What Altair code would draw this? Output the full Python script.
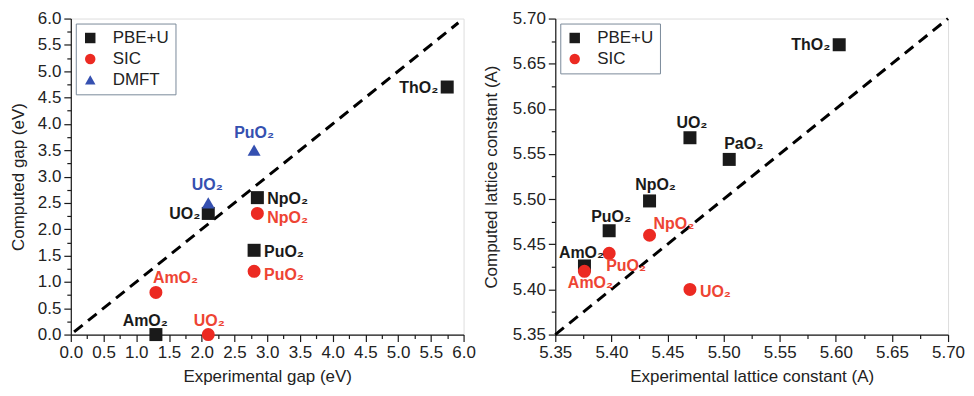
import altair as alt
import pandas as pd

# ---------------- data: band gaps ----------------
gap_pbe_names = ["ThO₂", "NpO₂", "UO₂", "PuO₂", "AmO₂"]
gap_pbe_exp = [5.75, 2.85, 2.1, 2.8, 1.3]
gap_pbe_calc = [4.7, 2.6, 2.3, 1.6, 0.0]

gap_sic_names = ["AmO₂", "UO₂", "NpO₂", "PuO₂"]
gap_sic_exp = [1.3, 2.1, 2.85, 2.8]
gap_sic_calc = [0.8, 0.0, 2.3, 1.2]

gap_dmft_names = ["UO₂", "PuO₂"]
gap_dmft_exp = [2.1, 2.8]
gap_dmft_calc = [2.5, 3.5]

# ---------------- data: lattice constants ----------------
lat_pbe_names = ["ThO₂", "UO₂", "PaO₂", "NpO₂", "PuO₂", "AmO₂"]
lat_pbe_exp = [5.603, 5.470, 5.505, 5.434, 5.398, 5.376]
lat_pbe_calc = [5.671, 5.568, 5.544, 5.498, 5.465, 5.426]

lat_sic_names = ["NpO₂", "PuO₂", "AmO₂", "UO₂"]
lat_sic_exp = [5.434, 5.398, 5.376, 5.470]
lat_sic_calc = [5.460, 5.440, 5.420, 5.400]

gap_ticks = [0.0, 0.5, 1.0, 1.5, 2.0, 2.5, 3.0, 3.5, 4.0, 4.5, 5.0, 5.5, 6.0]
lat_ticks = [5.35, 5.40, 5.45, 5.50, 5.55, 5.60, 5.65, 5.70]

methods = ["PBE+U", "SIC", "DMFT"]

# ---------------- styles ----------------
FONT = "Liberation Sans"
INK = "#1a1a1a"
RED = "#ec2a22"
RED_TXT = "#ee4433"
BLUE = "#3550b0"
method_colors = [INK, RED, BLUE]
method_shapes = ["square", "circle", "triangle-up"]
label_colors = {"PBE+U": INK, "SIC": RED_TXT, "DMFT": BLUE}

# label placement: (align, dx, dy)
gap_place = {
    "PBE+U|ThO₂": ("right", -9, 1),
    "PBE+U|NpO₂": ("left", 10, 1),
    "PBE+U|UO₂": ("right", -8, 1),
    "PBE+U|PuO₂": ("left", 10, 2),
    "PBE+U|AmO₂": ("right", 12, -14),
    "SIC|AmO₂": ("left", -3, -14),
    "SIC|UO₂": ("center", 1, -14),
    "SIC|NpO₂": ("left", 10, 5),
    "SIC|PuO₂": ("left", 10, 4),
    "DMFT|UO₂": ("center", -1, -18),
    "DMFT|PuO₂": ("center", 0, -17),
}
lat_place = {
    "PBE+U|ThO₂": ("right", -9, 0),
    "PBE+U|UO₂": ("center", 2, -15),
    "PBE+U|PaO₂": ("left", -5, -15),
    "PBE+U|NpO₂": ("center", 6, -16),
    "PBE+U|PuO₂": ("center", 2, -14),
    "PBE+U|AmO₂": ("center", -3, -13),
    "SIC|NpO₂": ("left", 4, -11),
    "SIC|PuO₂": ("left", -3, 13),
    "SIC|AmO₂": ("center", 6, 12),
    "SIC|UO₂": ("left", 10, 3),
}


def frame(groups):
    rows = []
    for method, names, xs, ys in groups:
        for n, x, y in zip(names, xs, ys):
            rows.append({"method": method, "name": n, "exp": x, "calc": y,
                         "id": method + "|" + n})
    return pd.DataFrame(rows)


gap_df = frame([("PBE+U", gap_pbe_names, gap_pbe_exp, gap_pbe_calc),
                ("SIC", gap_sic_names, gap_sic_exp, gap_sic_calc),
                ("DMFT", gap_dmft_names, gap_dmft_exp, gap_dmft_calc)])
lat_df = frame([("PBE+U", lat_pbe_names, lat_pbe_exp, lat_pbe_calc),
                ("SIC", lat_sic_names, lat_sic_exp, lat_sic_calc)])


def major_axis(title, ticks, fmt, orient, title_pad):
    return alt.Axis(
        title=title, values=ticks, grid=False, format=fmt, orient=orient,
        labelOverlap=False, labelFlush=False, tickSize=7,
        tickColor=INK, domainColor=INK, tickWidth=1.2, domainWidth=1.2,
        labelFont=FONT, labelFontSize=17, labelColor="#222", labelPadding=3,
        titleFont=FONT, titleFontSize=17, titleFontWeight="normal",
        titleColor="#222", titlePadding=title_pad,
    )


def minor_axis(ticks, orient):
    vals = []
    for a, b in zip(ticks[:-1], ticks[1:]):
        vals.append((a + b) / 2)
    return alt.Axis(title=None, values=vals, grid=False, labels=False,
                    domain=False, tickSize=4, tickColor=INK, tickWidth=1.2,
                    orient=orient)


def panel(df, dom, ticks, fmt, xtitle, ytitle, meths, place, line_pts, w, h,
          ytp):
    xs = alt.Scale(domain=dom, nice=False, zero=False)
    ys = alt.Scale(domain=dom, nice=False, zero=False)
    xax = major_axis(xtitle, ticks, fmt, "bottom", 8)
    yax = major_axis(ytitle, ticks, fmt, "left", ytp)

    # minor ticks layer (invisible mark carrying the minor-tick axes)
    minor = alt.Chart(pd.DataFrame({"exp": [dom[0]], "calc": [dom[0]]})).mark_point(
        opacity=0).encode(
        x=alt.X("exp:Q", scale=xs, axis=minor_axis(ticks, "bottom")),
        y=alt.Y("calc:Q", scale=ys, axis=minor_axis(ticks, "left")))

    line_df = pd.DataFrame({"exp": line_pts, "calc": line_pts})
    diag = alt.Chart(line_df).mark_line(
        color="black", strokeDash=[11, 7], strokeWidth=3
    ).encode(x=alt.X("exp:Q", scale=xs, axis=xax),
             y=alt.Y("calc:Q", scale=ys, axis=yax))

    idx = [methods.index(m) for m in meths]
    leg = alt.Legend(title=None, orient="top-left", offset=5,
                     strokeColor="#7a8a9a", padding=6,
                     labelFont=FONT, labelFontSize=17,
                     labelColor="#222", symbolSize=110,
                     symbolStrokeWidth=0, rowPadding=3, labelOffset=14)
    pts = alt.Chart(df).mark_point(filled=True, size=170, opacity=1).encode(
        x=alt.X("exp:Q", scale=xs, axis=xax),
        y=alt.Y("calc:Q", scale=ys, axis=yax),
        color=alt.Color("method:N", scale=alt.Scale(
            domain=meths, range=[method_colors[i] for i in idx]), legend=leg),
        shape=alt.Shape("method:N", scale=alt.Scale(
            domain=meths, range=[method_shapes[i] for i in idx]), legend=leg),
    )

    main = [diag, pts]
    for key, (align, dx, dy) in place.items():
        method = key.split("|")[0]
        main.append(
            alt.Chart(df).transform_filter(alt.datum.id == key).mark_text(
                align=align, baseline="middle", dx=dx, dy=dy,
                font=FONT, fontSize=16, fontWeight="bold",
                color=label_colors[method],
            ).encode(x=alt.X("exp:Q", scale=xs, axis=xax),
                     y=alt.Y("calc:Q", scale=ys, axis=yax),
                     text="name:N")
        )
    return alt.layer(minor, alt.layer(*main)).resolve_axis(
        x="independent", y="independent").properties(width=w, height=h)


left = panel(gap_df, [0, 6], gap_ticks, ".1f",
             "Experimental gap (eV)", "Computed gap (eV)",
             ["PBE+U", "SIC", "DMFT"], gap_place, [0.05, 5.92], 394, 317, 10)
right = panel(lat_df, [5.35, 5.70], lat_ticks, ".2f",
              "Experimental lattice constant (A)", "Computed lattice constant (A)",
              ["PBE+U", "SIC"], lat_place, [5.35, 5.70], 394, 317, 12)

chart = alt.hconcat(left, right, spacing=5).resolve_scale(
    color="independent", shape="independent"
).resolve_legend(color="independent", shape="independent").properties(
    padding={"left": 0, "top": 0, "right": 0, "bottom": 0}
).configure_view(stroke=INK, strokeWidth=1.2).configure(font=FONT)

chart.save("out.html", embed_options={"renderer": "svg", "actions": False})
